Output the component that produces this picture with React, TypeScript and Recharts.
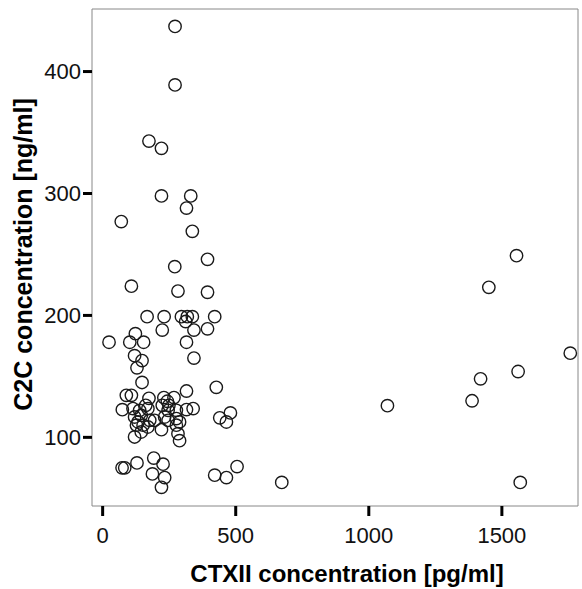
import React from 'react';
import {
  ScatterChart,
  Scatter,
  XAxis,
  YAxis,
  ReferenceArea,
} from 'recharts';

// CTXII [pg/ml] and C2C [ng/ml], one entry per subject
const ctx2 = [
  272, 272, 174, 221, 221, 331, 315, 70, 337, 394, 271, 108, 283, 394,
  167, 231, 296, 318, 337, 421, 312, 224, 343, 394, 123, 24, 102, 154, 315,
  120, 343, 148, 129, 148, 427, 315,
  89, 108, 174, 230, 268, 243, 74, 114, 139, 162, 170, 224, 249, 277, 246,
  120, 145, 133, 177, 195, 233, 277, 289, 246, 127, 152, 120, 145, 221, 283,
  289, 170, 277,
  440, 480, 465, 340, 315,
  73, 83, 129, 192, 227, 187, 233, 221, 421, 465, 505, 673, 1070,
  1555, 1451, 1757, 1561, 1420, 1388, 1569,
];
const c2c = [
  437, 389, 343, 337, 298, 298, 288, 277, 269, 246, 240, 224, 220, 219,
  199, 199, 199, 199, 199, 199, 195, 188, 188, 189, 185, 178, 178, 178, 178,
  167, 165, 163, 157, 145, 141, 138,
  134.5, 134.5, 132, 132.6, 132.6, 129.6, 122.7, 123.6, 122.2, 126.3, 123.6,
  126.3, 126.3, 122.2, 122.2, 116.7, 118, 112.6, 114, 114, 116.7, 115.4,
  112.6, 114, 110, 110, 100.3, 104.4, 106.3, 103, 97.3, 108.5, 110,
  116, 120, 112.6, 123.6, 122.8,
  75, 75, 79, 83, 78, 70, 67, 59, 69, 67, 76, 63, 126,
  249, 223, 169, 154, 148, 130, 63,
];
const xTicks = [0, 500, 1000, 1500];
const yTicks = [100, 200, 300, 400];
const xDomain: [number, number] = [-40, 1786];
const yDomain: [number, number] = [43.7, 451.3];

const points = ctx2.map((x, i) => ({ x, y: c2c[i] }));

const FONT = '"Liberation Sans", Arial, Helvetica, sans-serif';

const Ring = (props: any) => (
  <circle cx={props.cx} cy={props.cy} r={6.2} fill="none" stroke="#1a1a1a" strokeWidth={1.4} />
);

const XTitle = (props: any) => {
  const vb = props.viewBox;
  return (
    <text
      x={vb.x + vb.width / 2 + 12}
      y={vb.y + 76}
      textAnchor="middle"
      fontFamily={FONT}
      fontWeight="bold"
      fontSize={24}
      fill="#000"
    >
      CTXII concentration [pg/ml]
    </text>
  );
};

const YTitle = (props: any) => {
  const vb = props.viewBox;
  const cx = 32;
  const cy = vb.y + vb.height / 2 - 3;
  return (
    <text
      x={cx}
      y={cy}
      transform={`rotate(-90, ${cx}, ${cy})`}
      textAnchor="middle"
      fontFamily={FONT}
      fontWeight="bold"
      fontSize={25}
      fill="#000"
    >
      C2C concentration [ng/ml]
    </text>
  );
};

export default function App() {
  return (
    <div style={{ position: 'absolute', left: 0, top: 0, background: '#fff' }}>
      <ScatterChart width={582} height={589} margin={{ top: 9, right: 4, left: 0, bottom: 0 }}>
        <XAxis
          type="number"
          dataKey="x"
          domain={xDomain}
          ticks={xTicks}
          allowDataOverflow
          height={83}
          axisLine={false}
          tickSize={10}
          tickMargin={11}
          tickLine={{ stroke: '#000', strokeWidth: 3 }}
          tick={{ fontSize: 22, fill: '#111', fontFamily: FONT }}
          label={{ content: XTitle }}
        />
        <YAxis
          type="number"
          dataKey="y"
          domain={yDomain}
          ticks={yTicks}
          allowDataOverflow
          width={92}
          axisLine={false}
          tickSize={9}
          tickMargin={2}
          tickLine={{ stroke: '#000', strokeWidth: 3 }}
          tick={{ fontSize: 22, fill: '#111', fontFamily: FONT }}
          label={{ content: YTitle }}
        />
        <ReferenceArea
          x1={xDomain[0]}
          x2={xDomain[1]}
          y1={yDomain[0]}
          y2={yDomain[1]}
          fill="none"
          stroke="#888"
          strokeWidth={1}
          ifOverflow="visible"
        />
        <Scatter data={points} shape={Ring} isAnimationActive={false} />
      </ScatterChart>
    </div>
  );
}
